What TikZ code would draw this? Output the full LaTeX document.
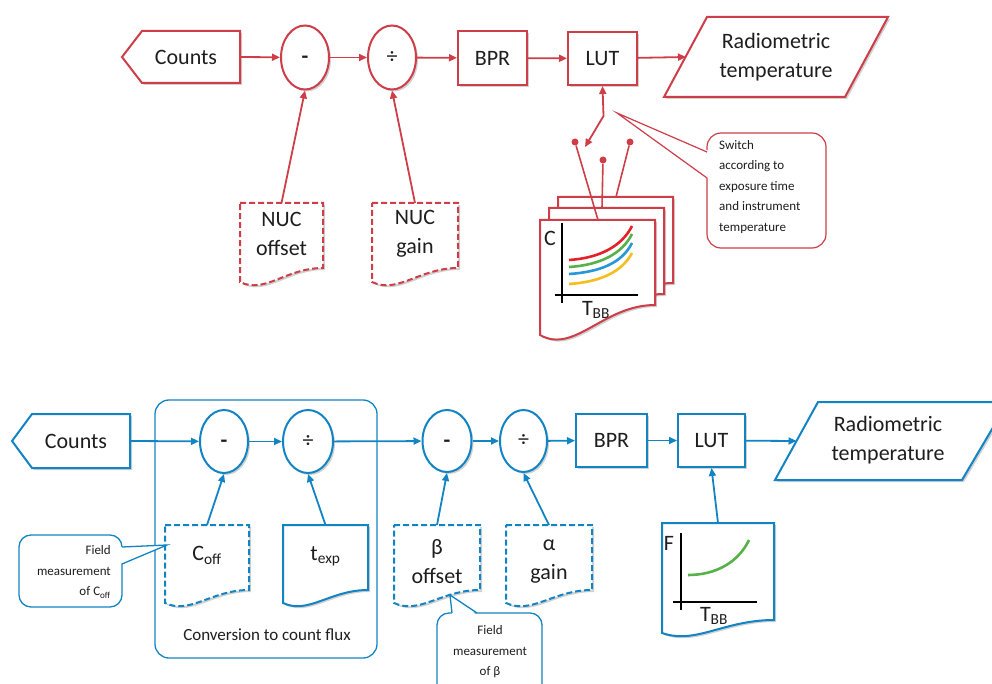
\documentclass[tikz,border=0pt]{standalone}
\usepackage{fontspec}
\setmainfont{Carlito}
\usetikzlibrary{arrows.meta,shapes.geometric,shadows,calc}
\definecolor{cred}{RGB}{205,62,72}
\definecolor{cblue}{RGB}{18,132,196}
\definecolor{pred}{RGB}{228,32,40}
\definecolor{pgreen}{RGB}{86,178,72}
\definecolor{pblue}{RGB}{40,150,215}
\definecolor{pyellow}{RGB}{244,190,30}
\definecolor{txtc}{RGB}{30,30,30}
\newcommand{\docsh}[6]{%
 \pgfmathsetmacro{\dca}{#2+0.55*(#4-#2)}%
 \pgfmathsetmacro{\dcb}{#2+0.3*(#4-#2)}%
 \pgfmathsetmacro{\dcy}{#5+0.45*(#5-#6)+6}%
 \filldraw[#1] (#2,#3) -- (#4,#3) -- (#4,#6) .. controls (\dca,#6) and (\dcb,\dcy) .. (#2,#5) -- cycle;}
\newcommand{\mns}{\raisebox{-6pt}{\textbf{-}}}
\begin{document}
\begin{tikzpicture}[x=1pt,y=-1pt,
  sh/.style={drop shadow={shadow xshift=2pt,shadow yshift=-2pt,opacity=.3,fill=black!60}},
  big/.style={font=\fontsize{22}{29}\selectfont, text=txtc},
  small/.style={font=\fontsize{13}{20.5}\selectfont, text=txtc},
  txt/.style={big, inner sep=0, align=center},
  rline/.style={draw=cred, line width=2pt, fill=white},
  bline/.style={draw=cblue, line width=2pt, fill=white},
  rdash/.style={rline, dash pattern=on 6pt off 3pt},
  bdash/.style={bline, dash pattern=on 6pt off 3pt},
  rbox/.style={rectangle, rline, sh, txt},
  bbox/.style={rectangle, bline, sh, txt},
  rell/.style={ellipse, rline, sh, txt, minimum width=48, minimum height=64},
  bell/.style={ellipse, bline, sh, txt, minimum width=48, minimum height=63},
  minus/.style={text height=0pt, text depth=0pt},
  tip/.style={-{Triangle[length=8pt,width=7pt]}},
  rcon/.style={draw=cred, line width=1.8pt, tip},
  bcon/.style={draw=cblue, line width=1.8pt, tip},
  rthin/.style={draw=cred, line width=1.2pt},
  bthin/.style={draw=cblue, line width=1.3pt},
  dot/.style={circle, fill=cred, inner sep=0, minimum size=7},
  axis/.style={draw=black, line width=1.6pt},
  curve/.style={line width=2.6pt}
]
\useasboundingbox (0,0) rectangle (992,684);
\clip (0,0) rectangle (992,684);

% ================= TOP (red) =================
\filldraw[rline, sh] (122,57) -- (142,31) -- (240,31) -- (240,83) -- (142,83) -- cycle;
\node[txt, minimum width=108, minimum height=52] (cnt1) at (186,57) {Counts};
\node[rell, minus] (m1) at (305,57.5) {\mns};
\node[rell] (d1) at (392,57.5) {÷};
\node[rbox, minimum width=69, minimum height=54] (bpr1) at (492.5,58) {BPR};
\node[rbox, minimum width=69, minimum height=53] (lut1) at (602.5,58.5) {LUT};
\filldraw[rline, sh] (664,97) -- (707,17) -- (888,17) -- (845,97) -- cycle;
\node[txt] (rad1) at (776,57) {Radiometric\\temperature};
\coordinate (rad1w) at (686,57);

\draw[rcon] (cnt1.east) -- (m1);
\draw[rcon] (m1) -- (d1);
\draw[rcon] (d1) -- (bpr1);
\draw[rcon] (bpr1) -- (lut1);
\draw[rcon] (lut1) -- (rad1w);

% NUC documents
\docsh{rdash, sh}{240}{203}{323}{282}{268}
\node[txt, anchor=north, minimum width=83, minimum height=62] (nuco) at (281.5,203) {NUC\\offset};
\docsh{rdash, sh}{372}{203}{458}{282}{268}
\node[txt, anchor=north, minimum width=86, minimum height=62] (nucg) at (415,203) {NUC\\gain};
\draw[rcon] (nuco.north) -- (m1.south);
\draw[rcon] (nucg.north) -- (d1.south);

% stacked LUT pages
\docsh{rline, sh}{558}{197}{673}{313}{283}
\docsh{rline, sh}{549}{208}{664}{324}{294}
\docsh{rline, sh}{540}{220}{655}{335}{305}
\coordinate (pg1) at (598,220);
\coordinate (pg2) at (602,208);
\coordinate (pg3) at (616,197);
\node[dot] (p1) at (575,142) {};
\node[dot] (p2) at (603,160) {};
\node[dot] (p3) at (630,142) {};
\draw[rthin, line width=1.6pt] (p1) -- (pg1);
\draw[rthin, line width=1.6pt] (p2) -- (pg2);
\draw[rthin, line width=1.6pt] (p3) -- (pg3);
\coordinate (sw) at (603.5,116);
\coordinate (swe) at (585,147);
\draw[draw=cred, line width=1.8pt, {Triangle[length=8pt,width=7pt]}-{Triangle[length=8pt,width=7pt]}] (lut1.south) -- (sw) -- (swe);

% plot on front page
\draw[axis] (562,223) -- (562,303);
\draw[axis] (555,295) -- (638,295);
\node[big] (cl) at (550,238) {C};
\node[big] (tbb1) at (596,310) {T\textsubscript{BB}};
\draw[curve, pred] (569,260) .. controls (600,258) and (622,246) .. (632,226);
\draw[curve, pgreen] (569,267) .. controls (600,265) and (622,254) .. (632,234);
\draw[curve, pblue] (569,274) .. controls (600,272) and (622,263) .. (632,243);
\draw[curve, pyellow] (569,284) .. controls (600,282) and (622,272) .. (632,253);

% switch callout
\draw[rthin, fill=white, rounded corners=14] (707,133) rectangle (826,248);
\fill[white] (709,151) -- (617,113) -- (709,179) -- cycle;
\coordinate (swt) at (617,113);
\draw[rthin] (707,152) -- (swt) -- (707,178);
\node[small, anchor=north west, align=left, inner sep=0] (swtxt) at (719,140) {Switch\\according to\\exposure time\\and instrument\\temperature};

% ================= BOTTOM (blue) =================
\node[draw=cblue, line width=1.3pt, rounded corners=14, minimum width=222, minimum height=258, inner sep=0] (conv) at (266,529) {};
\node[font=\fontsize{17}{20}\selectfont, text=txtc] (convl) at (267,635) {Conversion to count flux};

\filldraw[bline, sh] (12,441) -- (32,414) -- (130,414) -- (130,468) -- (32,468) -- cycle;
\node[txt, minimum width=108, minimum height=54] (cnt2) at (76,441) {Counts};
\node[bell, minus] (m2) at (224,441.5) {\mns};
\node[bell, minimum width=50] (d2) at (308,441.5) {÷};
\node[bell, minus, minimum width=49, minimum height=62] (m3) at (447,441) {\mns};
\node[bell, minimum width=47, minimum height=62] (d3) at (523.5,441) {÷};
\node[bbox, minimum width=71, minimum height=53] (bpr2) at (611.5,440.5) {BPR};
\node[bbox, minimum width=67, minimum height=53] (lut2) at (711.5,440.5) {LUT};
\filldraw[bline, sh] (775,480) -- (818,402) -- (1008,402) -- (962,480) -- cycle;
\node[txt] (rad2) at (888,440) {Radiometric\\temperature};
\coordinate (rad2w) at (796.5,441);

\draw[bcon] (cnt2.east) -- (m2);
\draw[bcon] (m2) -- (d2);
\draw[bcon] (d2) -- (m3);
\draw[bcon] (m3) -- (d3);
\draw[bcon] (d3) -- (bpr2);
\draw[bcon] (bpr2) -- (lut2);
\draw[bcon] (lut2) -- (rad2w);

% documents
\docsh{bdash, sh}{165}{525}{249}{603}{590}
\node[txt, anchor=north, minimum width=84, minimum height=60] (coff) at (207,525) {C\textsubscript{off}};
\docsh{bline, sh}{283}{525}{368}{603}{590}
\node[txt, anchor=north, minimum width=85, minimum height=62] (texp) at (325.5,525) {t\textsubscript{exp}};
\docsh{bdash, sh}{394}{525}{480}{603}{590}
\node[txt, anchor=north, minimum width=86, minimum height=72] (beta) at (437,525) {β\\offset};
\docsh{bdash, sh}{506}{525}{592}{603}{590}
\node[txt, anchor=north, minimum width=86, minimum height=72] (alpha) at (549,525) {α\\gain};
\docsh{bline, sh}{662}{523}{774}{633}{620}
\node[inner sep=0, anchor=north, minimum width=112, minimum height=100] (fdoc) at (718,523) {};

\draw[bcon] (coff.north) -- (m2.south);
\draw[bcon] (texp.north) -- (d2.south);
\draw[bcon] (beta.north) -- (m3.south);
\draw[bcon] (alpha.north) -- (d3.south);
\draw[bcon] (fdoc.north) -- (lut2.south);

% F plot
\draw[axis] (681,533) -- (681,610);
\draw[axis] (673,602) -- (757,602);
\node[big] (fl) at (669,543) {F};
\node[big] (tbb2) at (714,616) {T\textsubscript{BB}};
\draw[curve, pgreen] (688,575) .. controls (715,575) and (738,563) .. (749,540);

% callout C_off
\draw[bthin, fill=white, rounded corners=12] (19,535) rectangle (122,607);
\fill[white] (120,547) -- (167,545) -- (120,564) -- cycle;
\coordinate (cofft) at (167,545);
\draw[bthin] (122,547) -- (cofft) -- (122,564);
\node[small, anchor=east, align=right, inner sep=0] (cofftxt) at (111,572) {Field\\measurement\\of C\textsubscript{off}};

% callout beta
\draw[bthin, fill=white, rounded corners=12] (437,613) rectangle (542,700);
\fill[white] (452,615) -- (450,595) -- (477,615) -- cycle;
\coordinate (betat) at (450,595);
\draw[bthin] (452,613) -- (betat) -- (477,613);
\node[small, align=center, inner sep=0] (betatxt) at (490,652) {Field\\measurement\\of β};
\end{tikzpicture}
\end{document}
